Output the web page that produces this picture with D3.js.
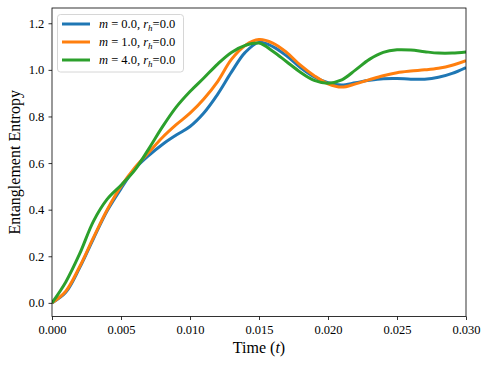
<!DOCTYPE html>
<html><head><meta charset="utf-8">
<script src="https://cdn.jsdelivr.net/npm/d3@7"></script>
<style>body{margin:0;background:#fff}svg{display:block}text{font-family:"Liberation Serif","Times New Roman",serif}</style>
</head><body>
<script>
const times = [0,0.001,0.002,0.003,0.004,0.005,0.006,0.007,0.008,0.009,0.010,0.011,0.012,0.013,0.014,0.015,0.016,0.017,0.018,0.019,0.020,0.021,0.022,0.023,0.024,0.025,0.026,0.027,0.028,0.029,0.030];
const seriesM0 = [0,0.045,0.15,0.275,0.395,0.49,0.575,0.632,0.68,0.72,0.757,0.815,0.895,0.99,1.075,1.118,1.10,1.06,1.01,0.97,0.945,0.935,0.945,0.955,0.962,0.963,0.96,0.96,0.968,0.985,1.01];
const seriesM1 = [0,0.05,0.155,0.28,0.40,0.50,0.58,0.645,0.71,0.765,0.814,0.875,0.95,1.045,1.105,1.13,1.115,1.075,1.02,0.975,0.94,0.926,0.94,0.958,0.975,0.988,0.995,1.0,1.007,1.02,1.04];
const seriesM4 = [0,0.09,0.21,0.35,0.445,0.505,0.57,0.66,0.755,0.84,0.907,0.965,1.025,1.075,1.105,1.115,1.08,1.035,0.99,0.955,0.943,0.957,1.0,1.045,1.075,1.086,1.085,1.078,1.072,1.072,1.077];
const massLabels = ["0.0","1.0","4.0"];
const rhLabel = "0.0";
const colors = ["#1f77b4","#ff7f0e","#2ca02c"];
const xTicks = [0,0.005,0.010,0.015,0.020,0.025,0.030];
const yTicks = [0,0.2,0.4,0.6,0.8,1.0,1.2];

const W=489,H=366;
const m={l:52,r:23,t:8,b:49.5};
const serif='"Liberation Serif","Times New Roman",serif';
const svg=d3.select("body").append("svg").attr("width",W).attr("height",H);
const x=d3.scaleLinear().domain([0,0.03]).range([m.l,W-m.r]);
const y=d3.scaleLinear().domain([-0.0585,1.2655]).range([H-m.b,m.t]);

const series=[seriesM0,seriesM1,seriesM4];
const line=d3.line().x((d,i)=>x(times[i])).y(d=>y(d)).curve(d3.curveCatmullRom.alpha(0.5));
const g=svg.append("g");
g.append("clipPath").attr("id","clip").append("rect").attr("x",m.l).attr("y",m.t).attr("width",W-m.l-m.r).attr("height",H-m.t-m.b);
series.forEach((s,k)=>{
  g.append("path").attr("d",line(s)).attr("fill","none").attr("stroke",colors[k]).attr("stroke-width",3).attr("clip-path","url(#clip)");
});

const xa=svg.append("g").attr("transform",`translate(0,${H-m.b})`).call(d3.axisBottom(x).tickValues(xTicks).tickFormat(d3.format(".3f")).tickSize(3.5).tickSizeOuter(0));
const ya=svg.append("g").attr("transform",`translate(${m.l},0)`).call(d3.axisLeft(y).tickValues(yTicks).tickFormat(d3.format(".1f")).tickSize(3.5).tickSizeOuter(0));
[xa,ya].forEach(a=>{a.attr("font-family",null);a.select(".domain").remove();a.selectAll("text").attr("font-size",12.5).style("font-family",serif).attr("fill","#000");a.selectAll("line").attr("stroke","#000").attr("stroke-width",0.8);});
xa.selectAll("text").attr("dy","0.9em");
ya.selectAll("text").attr("dx","-0.1em");
svg.append("rect").attr("x",m.l).attr("y",m.t).attr("width",W-m.l-m.r).attr("height",H-m.t-m.b).attr("fill","none").attr("stroke","#000").attr("stroke-width",0.8);

svg.append("text").attr("x",(m.l+W-m.r)/2).attr("y",353).attr("text-anchor","middle").attr("font-size",16).style("font-family",serif)
  .html('Time (<tspan font-style="italic">t</tspan>)');
svg.append("text").attr("transform",`translate(20,${(m.t+H-m.b)/2}) rotate(-90)`).attr("text-anchor","middle").attr("font-size",16).style("font-family",serif).text("Entanglement Entropy");

const lg=svg.append("g");
lg.append("rect").attr("x",57.5).attr("y",14.5).attr("width",126).attr("height",57.5).attr("rx",3).attr("fill","#fff").attr("fill-opacity",0.8).attr("stroke","#ccc").attr("stroke-width",0.8);
massLabels.forEach((ml,k)=>{
  const yy=24+k*18;
  lg.append("line").attr("x1",62).attr("x2",90).attr("y1",yy).attr("y2",yy).attr("stroke",colors[k]).attr("stroke-width",3);
  lg.append("text").attr("x",99).attr("y",yy+4.3).attr("font-size",12.5).style("font-family",serif)
    .html(`<tspan font-style="italic">m</tspan> = ${ml}, <tspan font-style="italic">r</tspan><tspan font-style="italic" font-size="9" dy="3">h</tspan><tspan dy="-3">=${rhLabel}</tspan>`);
});
</script>
</body></html>
